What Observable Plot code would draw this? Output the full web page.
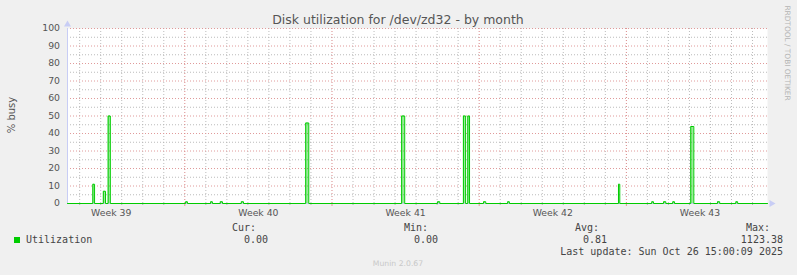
<!DOCTYPE html>
<html>
<head>
<meta charset="utf-8">
<script src="https://cdn.jsdelivr.net/npm/d3@7"></script>
<script src="https://cdn.jsdelivr.net/npm/@observablehq/plot@0.6"></script>
<style>
  html, body { margin: 0; padding: 0; background: #f0f0f0; }
  #wrap { position: relative; width: 797px; height: 275px; overflow: hidden; background: #f0f0f0; }
  #wrap svg { position: absolute; left: 0; top: 0; }
  .t { position: absolute; white-space: pre; line-height: 12px; }
  .mono { font-family: "DejaVu Sans Mono", monospace; font-size: 10px; color: #444; }
</style>
</head>
<body>
<div id="wrap"></div>
<script>
// ---- data ----
const title = "Disk utilization for /dev/zd32 - by month";
const yLabel = "% busy";
const domainStart = "2025-09-23T10:06Z";
const domainEnd = "2025-10-26T17:06Z";

// spikes of the Utilization series (start, end, value in % busy)
const spikeStart = ["2025-09-24T15:00","2025-09-25T03:00","2025-09-25T08:30","2025-09-29T01:00","2025-09-30T05:30","2025-09-30T16:30","2025-10-01T16:30","2025-10-04T18:00","2025-10-09T07:30","2025-10-11T00:30","2025-10-12T06:00","2025-10-12T11:00","2025-10-13T05:00","2025-10-14T08:30","2025-10-19T15:00","2025-10-21T05:00","2025-10-21T18:30","2025-10-22T05:00","2025-10-23T01:30","2025-10-24T08:00","2025-10-25T05:00"];
const spikeEnd   = ["2025-09-24T17:00","2025-09-25T05:30","2025-09-25T11:00","2025-09-29T03:00","2025-09-30T07:30","2025-09-30T19:00","2025-10-01T19:00","2025-10-04T21:30","2025-10-09T11:00","2025-10-11T03:00","2025-10-12T08:30","2025-10-12T13:00","2025-10-13T07:30","2025-10-14T10:30","2025-10-19T16:30","2025-10-21T07:00","2025-10-21T21:00","2025-10-22T07:00","2025-10-23T05:00","2025-10-24T10:30","2025-10-25T07:00"];
const spikeValue = [11, 7, 50, 1, 1, 1, 1, 46, 50, 1, 50, 50, 1, 1, 11, 1, 1, 1, 44, 1, 1];

const weekTickDates = ["2025-09-25T12:00Z","2025-10-02T12:00Z","2025-10-09T12:00Z","2025-10-16T12:00Z","2025-10-23T12:00Z"];
const weekLabels = ["Week 39","Week 40","Week 41","Week 42","Week 43"];
const yTicks = [0,10,20,30,40,50,60,70,80,90,100];
const yMinorTicks = [5,15,25,35,45,55,65,75,85,95];

const legendName = "Utilization";
const statLabels = ["Cur:","Min:","Avg:","Max:"];
const statValues = ["0.00","0.00","0.81","1123.38"];
const lastUpdate = "Last update: Sun Oct 26 15:00:09 2025";
const footer = "Munin 2.0.67";
const watermark = "RRDTOOL / TOBI OETIKER";

// ---- build series table ----
const t0 = new Date(domainStart), t1 = new Date(domainEnd);
const pts = [{t: t0, v: 0}];
spikeStart.forEach((s, i) => {
  const a = new Date(s + "Z"), b = new Date(spikeEnd[i] + "Z");
  pts.push({t: a, v: 0}, {t: a, v: spikeValue[i]}, {t: b, v: spikeValue[i]}, {t: b, v: 0});
});
pts.push({t: t1, v: 0});

const days = d3.utcDay.range(t0, t1).filter(d => d.getUTCDay() !== 1);
const mondays = d3.utcMonday.range(t0, t1);
const weekTicks = weekTickDates.map(d => new Date(d));

const gridGray = "#b4b4b4", gridRed = "#e09a9a", axisBlue = "#c8cdf5";

const chart = Plot.plot({
  width: 797, height: 275,
  marginLeft: 67, marginRight: 30, marginTop: 28, marginBottom: 72,
  x: {type: "utc", domain: [t0, t1]},
  y: {domain: [0, 100]},
  style: {background: "transparent", fontFamily: "DejaVu Sans", fontSize: "9.3px", color: "#555", overflow: "visible"},
  marks: [
    Plot.frame({fill: "white", stroke: null}),
    Plot.ruleY(yMinorTicks, {stroke: gridGray, strokeDasharray: "1,2", strokeOpacity: 0.9}),
    Plot.ruleX(days, {x: d => d, stroke: gridGray, strokeDasharray: "1,2", strokeOpacity: 0.9}),
    Plot.ruleY(yTicks.filter(d => d > 0), {stroke: gridRed, strokeDasharray: "1,2"}),
    Plot.ruleX(mondays, {x: d => d, stroke: "#d98888", strokeDasharray: "1,2"}),
    Plot.axisX(days, {tickSize: 2, tickFormat: () => "", stroke: gridGray, label: null}),
    Plot.axisX(mondays, {tickSize: 3, tickFormat: () => "", stroke: gridRed, label: null}),
    Plot.axisY(yTicks, {tickSize: 0, tickPadding: 7.5, label: null, fill: "#555"}),
    Plot.axisX(weekTicks, {tickSize: 0, tickPadding: 6, tickFormat: (d, i) => weekLabels[i], label: null, fill: "#555"}),
    Plot.frame({anchor: "left", stroke: axisBlue}),
    Plot.frame({anchor: "bottom", stroke: axisBlue}),
    Plot.dot([0], {frameAnchor: "top-left", symbol: "triangle", r: 2.6, fill: axisBlue, stroke: null, dy: -4}),
    Plot.dot([0], {frameAnchor: "bottom-right", symbol: "triangle", r: 2.6, fill: axisBlue, stroke: null, rotate: 90, dx: 4}),
    Plot.areaY(pts, {x: "t", y: "v", fill: "#00cc00", fillOpacity: 0.4, curve: "linear"}),
    Plot.line(pts, {x: "t", y: "v", stroke: "#00cc00", strokeWidth: 1, curve: "linear"})
  ]
});
const wrap = document.getElementById("wrap");
wrap.appendChild(chart);

function place(text, opts) {
  const el = document.createElement("div");
  el.className = "t" + (opts.mono ? " mono" : "");
  el.textContent = text;
  if (opts.font) el.style.font = opts.font;
  if (opts.color) el.style.color = opts.color;
  const lh = opts.lh || 12;
  el.style.lineHeight = lh + "px";
  el.style.top = (opts.cy - lh / 2) + "px";
  if (opts.right != null) el.style.right = (797 - opts.right) + "px";
  if (opts.left != null) el.style.left = opts.left + "px";
  if (opts.center != null) { el.style.width = "797px"; el.style.textAlign = "center"; el.style.left = (opts.center - 398.5) + "px"; }
  wrap.appendChild(el);
  return el;
}

place(title, {center: 398, cy: 19.5, font: "12.5px 'DejaVu Sans'", color: "#555", lh: 14});

// y label, rotated
const yl = place(yLabel, {left: 12, cy: 115, font: "10px 'DejaVu Sans'", color: "#555"});
yl.style.transform = "translateX(-50%) rotate(-90deg)";
yl.style.transformOrigin = "50% 50%";

// watermark, rotated
const wm = place(watermark, {left: 787, cy: 53, font: "7.4px 'DejaVu Sans'", color: "#b4b4b4", lh: 8});
wm.style.transform = "translateX(-50%) rotate(90deg)";
wm.style.transformOrigin = "50% 50%";

// legend
const sq = document.createElement("div");
Object.assign(sq.style, {position: "absolute", left: "14px", top: "237px", width: "6px", height: "6px", background: "#00cc00"});
wrap.appendChild(sq);
place(legendName, {mono: true, left: 26, cy: 240});
const labelRight = [256, 428, 599, 770];
const valueRight = [268, 438, 607, 783];
statLabels.forEach((s, i) => {
  place(s, {mono: true, right: labelRight[i], cy: 227.5});
  place(statValues[i], {mono: true, right: valueRight[i], cy: 240});
});
place(lastUpdate, {mono: true, right: 783, cy: 252});
place(footer, {center: 398, cy: 264, font: "7.7px 'DejaVu Sans'", color: "#c8c8c8", lh: 10});
</script>
</body>
</html>
